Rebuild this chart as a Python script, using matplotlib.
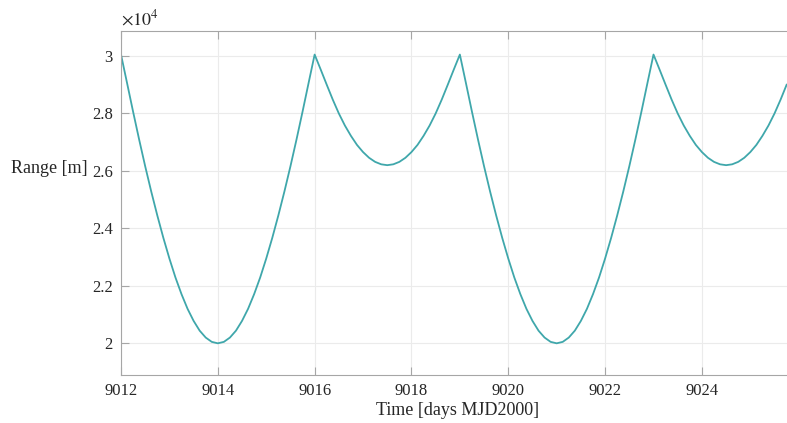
import numpy as np
import matplotlib
matplotlib.use("Agg")
import matplotlib.pyplot as plt

plt.rcParams['font.family'] = ['Liberation Serif', 'DejaVu Serif']
plt.rcParams['mathtext.fontset'] = 'stix'

# time samples [days MJD2000], every eighth of a day
time_days = np.arange(9012.0, 9025.76, 0.125)

# deep pass profile [m], from the minimum outwards (1/8 day steps)
deep_half = [20000, 20050, 20200, 20440, 20780, 21200, 21710, 22290, 22950,
             23670, 24450, 25280, 26160, 27090, 28060, 29060, 30050]
# shallow pass profile [m], from the minimum outwards
shallow_half = [26200, 26230, 26315, 26457, 26656, 26905, 27220, 27580,
                28000, 28480, 29000, 29530, 30050]

range_m = (deep_half[::-1] + deep_half[1:]            # 9012 - 9016
           + shallow_half[-2::-1] + shallow_half[1:]  # 9016 - 9019
           + deep_half[-2::-1] + deep_half[1:]        # 9019 - 9023
           + shallow_half[-2::-1] + shallow_half[1:11])  # 9023 - 9025.75

x_ticks = [9012, 9014, 9016, 9018, 9020, 9022, 9024]
y_ticks = [20000, 22000, 24000, 26000, 28000, 30000]
y_tick_labels = ['2', '2.2', '2.4', '2.6', '2.8', '3']

fig = plt.figure(figsize=(7.87, 4.23), dpi=100)
ax = fig.add_axes([121 / 787, 1 - 375 / 423, 0.855, (375 - 31) / 423])

ax.plot(time_days, range_m, color='#3fa7ab', linewidth=1.3)

ax.set_xlim(9012, 9025.90)
ax.set_ylim(18897, 30870)
ax.set_xticks(x_ticks)
ax.set_xticklabels([str(t) for t in x_ticks])
ax.set_yticks(y_ticks)
ax.set_yticklabels(y_tick_labels)

ax.grid(True, color='#ebebeb', linewidth=0.8)
ax.set_axisbelow(True)
for side in ['left', 'bottom', 'top', 'right']:
    ax.spines[side].set_color('#a6a6a6')
    ax.spines[side].set_linewidth(0.8)
ax.tick_params(direction='in', length=6, width=0.8, color='#a6a6a6',
               labelsize=12, labelcolor='#262626', top=True, right=False, pad=6)

ax.set_xlabel('Time [days MJD2000]', fontsize=13, color='#262626', labelpad=2)
fig.text(11 / 787, 1 - 168 / 423, 'Range [m]', fontsize=13, color='#262626',
         va='center', ha='left')
ax.text(0.0, 1.005, r'$\times 10^{4}$', transform=ax.transAxes, fontsize=13,
        color='#262626', ha='left', va='bottom')

fig.savefig('out.png', dpi=100)
